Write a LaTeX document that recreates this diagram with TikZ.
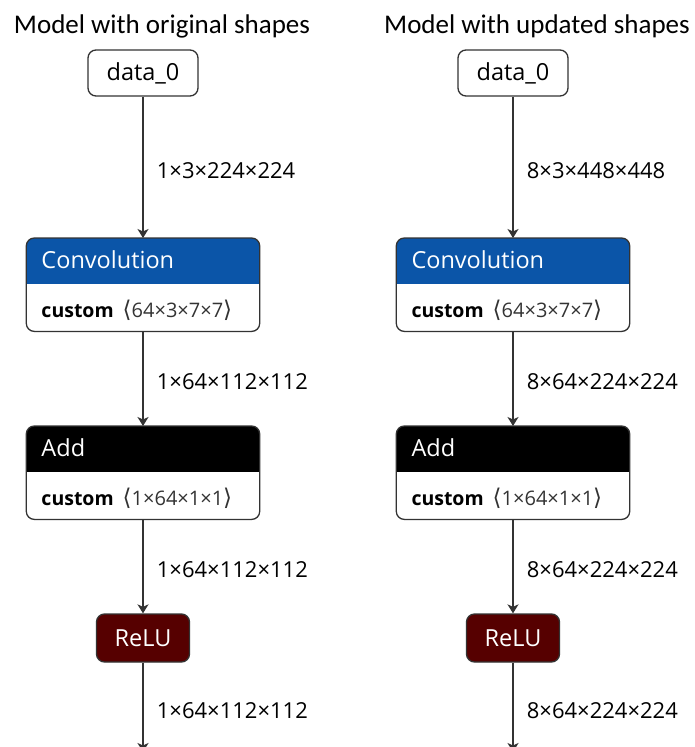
\documentclass[tikz,border=0pt]{standalone}
\usepackage{fontspec}
\setmainfont{Open Sans}
\newfontfamily\captionfont{Carlito}
\newfontfamily\bracketfont{DejaVu Sans}
\usetikzlibrary{arrows.meta}
\definecolor{convblue}{HTML}{0B55A8}
\definecolor{relured}{HTML}{560000}
\definecolor{framegray}{HTML}{333333}
\tikzset{
  heading/.style={font=\captionfont\fontsize{27}{30}\selectfont,inner sep=0pt,anchor=base},
  inputbox/.style={draw=framegray,line width=1.3pt,rounded corners=8pt,minimum width=110pt,minimum height=46pt,inner sep=0pt,font=\fontsize{23.5}{26}\selectfont},
  actbox/.style={draw=framegray,line width=1.3pt,fill=relured,text=white,rounded corners=8pt,minimum width=93pt,minimum height=48pt,inner sep=0pt,font=\fontsize{23.5}{26}\selectfont},
  opframe/.style={minimum width=233pt,minimum height=93pt,anchor=north,inner sep=0pt},
  optitle/.style={anchor=base west,text=white,inner sep=0pt,font=\fontsize{23.5}{26}\selectfont},
  opparam/.style={anchor=base west,inner sep=0pt,font=\fontsize{20}{22}\selectfont},
  flow/.style={-{Stealth[length=9pt,width=11pt,inset=2.5pt]},line width=1.7pt,draw=framegray},
  shapelbl/.style={anchor=west,xshift=13pt,yshift=-3pt,inner sep=0pt,font=\fontsize{22}{24}\selectfont}
}
% #1 name, #2 x, #3 top y, #4 header colour, #5 title, #6 attribute
\newcommand\opblock[6]{%
  \node[opframe] (#1) at (#2,#3) {};
  \begin{scope}
    \clip[rounded corners=8pt] (#1.south west) rectangle (#1.north east);
    \fill[#4] (#1.north west) rectangle ([yshift=-46pt]#1.north east);
  \end{scope}
  \draw[framegray,line width=1.3pt,rounded corners=8pt] (#1.south west) rectangle (#1.north east);
  \node[optitle] (#1-name) at ([xshift=15pt,yshift=-30pt]#1.north west) {#5};
  \node[opparam] (#1-attr) at ([xshift=15pt,yshift=-79pt]#1.north west) {{\fontsize{19.5}{22}\selectfont\bfseries custom}\hspace{9pt}\textcolor{framegray}{{\bracketfont\fontsize{23}{22}\selectfont ⟨}#6{\bracketfont\fontsize{23}{22}\selectfont ⟩}}};
}
\begin{document}
\begin{tikzpicture}[x=1pt,y=-1pt]
\useasboundingbox (0,0) rectangle (695,747);
% original shapes
\node[heading] (titleL) at (162,33) {Model with original shapes};
\node[inputbox] (dataL) at (143,73) {data\_0};
\opblock{convL}{143}{238}{convblue}{Convolution}{64×3×7×7}
\opblock{addL}{143}{426}{black}{Add}{1×64×1×1}
\node[actbox] (reluL) at (143,638) {ReLU};
\coordinate (outL) at (143,752);
\draw[flow] (dataL) -- node[shapelbl]{1×3×224×224} (convL);
\draw[flow] (convL) -- node[shapelbl]{1×64×112×112} (addL);
\draw[flow] (addL) -- node[shapelbl]{1×64×112×112} (reluL);
\draw[flow] (reluL) -- node[shapelbl]{1×64×112×112} (outL);
% updated shapes
\node[heading] (titleR) at (537,33) {Model with updated shapes};
\node[inputbox] (dataR) at (513,73) {data\_0};
\opblock{convR}{513}{238}{convblue}{Convolution}{64×3×7×7}
\opblock{addR}{513}{426}{black}{Add}{1×64×1×1}
\node[actbox] (reluR) at (513,638) {ReLU};
\coordinate (outR) at (513,752);
\draw[flow] (dataR) -- node[shapelbl]{8×3×448×448} (convR);
\draw[flow] (convR) -- node[shapelbl]{8×64×224×224} (addR);
\draw[flow] (addR) -- node[shapelbl]{8×64×224×224} (reluR);
\draw[flow] (reluR) -- node[shapelbl]{8×64×224×224} (outR);
\end{tikzpicture}
\end{document}
